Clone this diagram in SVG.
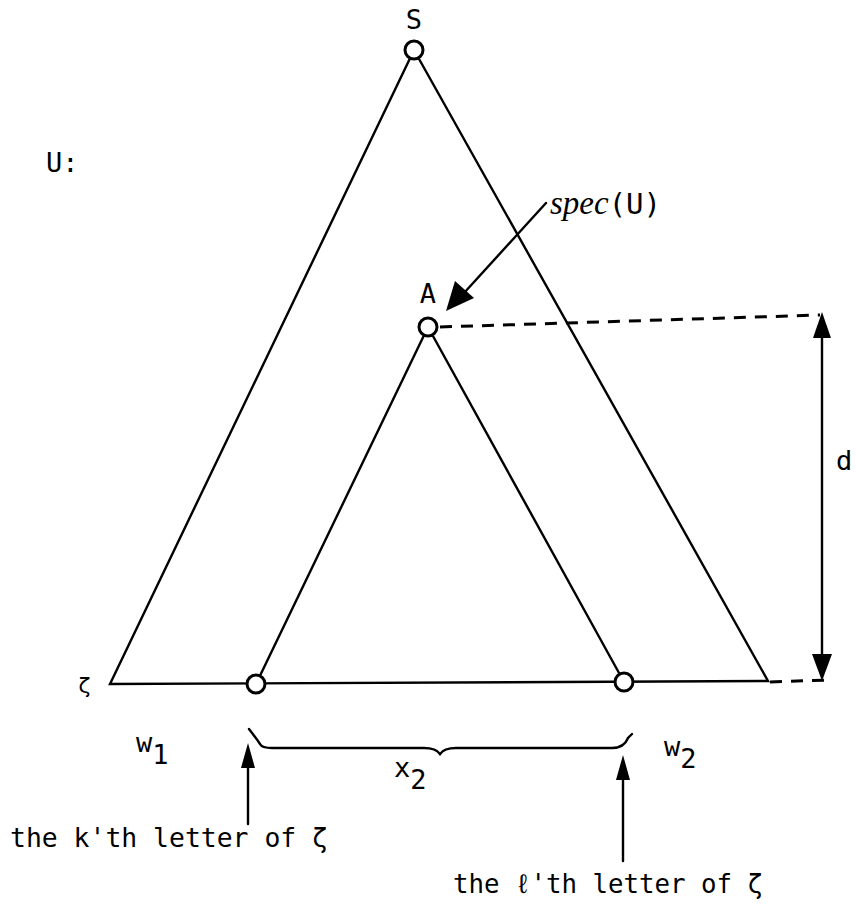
<svg xmlns="http://www.w3.org/2000/svg" width="856" height="906" viewBox="0 0 856 906">
<defs>
<style>
.ln{stroke:#000;stroke-width:2.4;fill:none;stroke-linecap:round}
.dash{stroke:#000;stroke-width:3;fill:none;stroke-dasharray:12,9}
.nd{fill:#fff;stroke:#000;stroke-width:3}
.t{font-family:"DejaVu Sans Mono","Liberation Mono",monospace;font-size:27px;fill:#000}
.it{font-family:"Liberation Serif",serif;font-style:italic;font-size:33px;fill:#000}
</style>
</defs>
<rect width="856" height="906" fill="#fff"/>
<g id="connectors">
<path class="ln" d="M414,50 L110,684 L768,681 L414,50"/>
<path class="ln" d="M428,327 L256,684 M428,327 L624,682"/>
<path class="dash" d="M440,327 L820,315"/>
<path class="dash" d="M770,682 L828,680"/>
<line class="ln" x1="822" y1="336" x2="822" y2="660"/>
<path d="M822,312 L813,338 L831,338 Z" fill="#000"/>
<path d="M822,681 L812,654 L832,654 Z" fill="#000"/>
<line class="ln" x1="546" y1="203" x2="464" y2="293"/>
<path d="M446,311 L455,281 L474,298 Z" fill="#000"/>
<path class="ln" d="M249,729 C252,733 256,738 260,744 Q262,748 272,748 L424,748 Q436,748 440,754 Q444,748 456,748 L612,748 Q624,748 628,738 L632,734"/>
<line class="ln" x1="248" y1="765" x2="248" y2="824"/>
<path d="M248,743 L241,768 L255,768 Z" fill="#000"/>
<line class="ln" x1="623" y1="778" x2="623" y2="861"/>
<path d="M623,755 L616,780 L630,780 Z" fill="#000"/>
</g>
<g id="S"><circle class="nd" cx="414" cy="50" r="9"/><text class="t" x="414" y="29" text-anchor="middle">S</text></g>
<g id="A"><circle class="nd" cx="428" cy="327" r="9"/><text class="t" x="428" y="303" text-anchor="middle">A</text></g>
<g id="k"><circle class="nd" cx="256" cy="684" r="9"/></g>
<g id="l"><circle class="nd" cx="624" cy="682" r="9"/></g>
<g id="labels">
<text class="t" x="46" y="172">U:</text>
<text x="550" y="214"><tspan class="it">spec</tspan><tspan class="t" style="font-size:29px">(U)</tspan></text>
<text class="t" x="836" y="470">d</text>
<text class="t" x="78" y="693" style="font-size:22px">ζ</text>
<text class="t" x="136" y="752">w<tspan dy="12">1</tspan></text>
<text class="t" x="664" y="756">w<tspan dy="12">2</tspan></text>
<text class="t" x="394" y="777">x<tspan dy="12">2</tspan></text>
<text class="t" x="10" y="847" textLength="318" lengthAdjust="spacingAndGlyphs">the k'th letter of ζ</text>
<text class="t" x="453" y="893" textLength="310" lengthAdjust="spacingAndGlyphs">the ℓ'th letter of ζ</text>
</g>
</svg>
